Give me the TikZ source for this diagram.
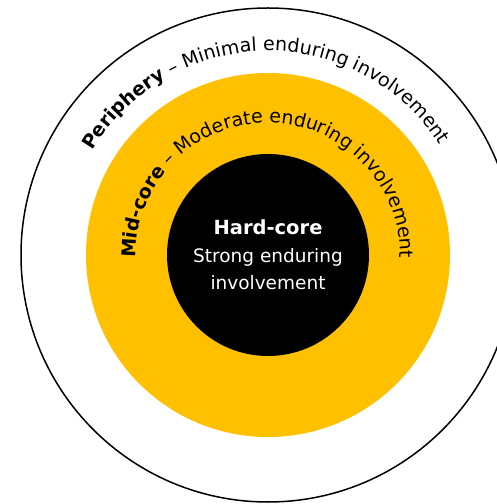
\documentclass[tikz,border=0pt]{standalone}
\usepackage{fontspec}
\setmainfont{DejaVu Sans}
\usetikzlibrary{decorations.text}
\definecolor{coreyellow}{RGB}{255,192,0}
\newcommand{\ringfont}{\fontsize{19}{22}\selectfont}

\begin{document}
\begin{tikzpicture}[x=1pt, y=1pt,
    ring/.style={circle, inner sep=0pt, outer sep=0pt},
    arclabel/.style={decorate, decoration={text along path, text align=center, text={#1}}}]
    \clip (0,0) rectangle (497,504);

    \node[ring, draw, line width=1.5pt, minimum size=494] (periphery) at (268,249) {};
    \node[ring, fill=coreyellow, minimum size=364] (midcore) at (periphery.center) {};
    \node[ring, fill=black, minimum size=202, text=white, align=center,
          font=\fontsize{18.5}{27.5}\selectfont] (hardcore) at (periphery.center)
        {{\fontsize{19.5}{27.5}\selectfont\bfseries Hard-core}\\Strong enduring\\involvement};

    \path[arclabel={|\ringfont\bfseries|Periphery|\ringfont\mdseries| – Minimal enduring involvement}]
        (periphery.center) ++(150:204) arc[start angle=150, end angle=32, radius=204];
    \path[arclabel={|\ringfont\bfseries|Mid-core|\ringfont\mdseries| – Moderate enduring involvement}]
        (midcore.center) ++(180:132) arc[start angle=180, end angle=0, radius=132];
\end{tikzpicture}
\end{document}
